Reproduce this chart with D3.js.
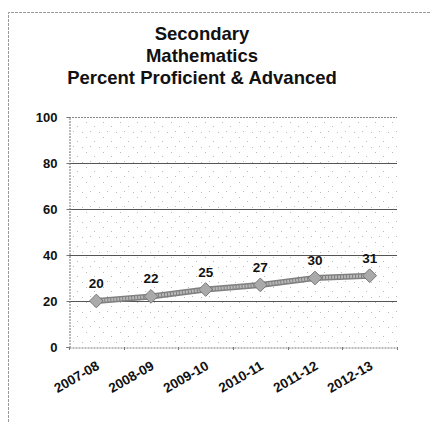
<!DOCTYPE html>
<html><head><meta charset="utf-8">
<script src="https://cdn.jsdelivr.net/npm/d3@7"></script>
<style>body{margin:0;background:#fff}svg{display:block}</style>
</head><body>
<svg id="c" width="430" height="422"></svg>
<script>
const categories = ["2007-08","2008-09","2009-10","2010-11","2011-12","2012-13"];
const values = [20,22,25,27,30,31];
const yTicks = [0,20,40,60,80,100];
const titleLines = ["Secondary","Mathematics","Percent Proficient & Advanced"];

const svg = d3.select("#c");
const W = 430, H = 422;
const m = {left:69, right:397, top:117, bottom:347};
const font = "Arial, 'Liberation Sans', sans-serif";

// outer frame
svg.append("path").attr("d",`M8.5,${H} L8.5,12.5 L${W},12.5`)
  .attr("fill","none").attr("stroke","#999").attr("stroke-width",1).attr("stroke-dasharray","3,1");

const defs = svg.append("defs");
const pat = defs.append("pattern").attr("id","stip").attr("patternUnits","userSpaceOnUse")
  .attr("width",17).attr("height",15);
[[1,2],[9,6],[14,12],[5,11]].forEach(([x,y])=>{
  pat.append("rect").attr("x",x).attr("y",y).attr("width",1).attr("height",1).attr("fill","#bbb");
});

const x = d3.scaleBand().domain(categories).range([m.left,m.right]);
const y = d3.scaleLinear().domain([0,100]).range([m.bottom,m.top]);

svg.append("rect").attr("x",m.left).attr("y",m.top).attr("width",m.right-m.left)
  .attr("height",m.bottom-m.top).attr("fill","url(#stip)");

// gridlines
svg.append("g").selectAll("line").data(yTicks.filter(t=>t>0 && t<100)).join("line")
  .attr("x1",m.left).attr("x2",m.right)
  .attr("y1",d=>Math.round(y(d))+0.5).attr("y2",d=>Math.round(y(d))+0.5)
  .attr("stroke","#555").attr("stroke-width",1);
// top border
svg.append("line").attr("x1",m.left).attr("x2",m.right).attr("y1",m.top+0.5).attr("y2",m.top+0.5)
  .attr("stroke","#888").attr("stroke-dasharray","2,1");

// y axis
const yAxis = svg.append("g").attr("transform",`translate(${m.left+0.5},0)`)
  .call(d3.axisLeft(y).tickValues(yTicks).tickSize(3).tickPadding(9));
yAxis.select(".domain").attr("stroke","#777").attr("stroke-dasharray","2,1");
yAxis.selectAll(".tick line").attr("stroke","#777");
yAxis.selectAll("text").attr("font-family",font).attr("font-weight","bold")
  .attr("font-size",13).attr("fill","#111");

// x axis
const xAxis = svg.append("g").attr("transform",`translate(0,${m.bottom+0.5})`)
  .call(d3.axisBottom(x).tickSize(0).tickPadding(0));
xAxis.select(".domain").attr("stroke","#777").attr("stroke-dasharray","2,1");
xAxis.selectAll(".tick text").attr("font-family",font).attr("font-weight","bold")
  .attr("font-size",13.5).attr("fill","#111").attr("text-anchor","end")
  .attr("dy",0).attr("transform","translate(4,21) rotate(-30)");
// tick marks at band boundaries
svg.append("g").selectAll("line").data(categories.concat(["end"])).join("line")
  .attr("x1",(d,i)=>Math.round(m.left + i*x.bandwidth())+0.5)
  .attr("x2",(d,i)=>Math.round(m.left + i*x.bandwidth())+0.5)
  .attr("y1",m.bottom).attr("y2",m.bottom+3).attr("stroke","#777");

// line
const cx = d => x(d) + x.bandwidth()/2;
const data = categories.map((c,i)=>({c, v: values[i]}));
const line = d3.line().x(d=>cx(d.c)).y(d=>y(d.v));
svg.append("path").datum(data).attr("d",line).attr("fill","none")
  .attr("stroke","#808080").attr("stroke-width",6);
svg.append("path").datum(data).attr("d",line).attr("fill","none")
  .attr("stroke","#b8b8b8").attr("stroke-width",3).attr("stroke-dasharray","2,1");
svg.append("g").selectAll("path").data(data).join("path")
  .attr("d",d3.symbol(d3.symbolDiamond2, 120)())
  .attr("transform",d=>`translate(${cx(d.c)},${y(d.v)})`)
  .attr("fill","#aaa").attr("stroke","#777").attr("stroke-width",1);

// data labels
svg.append("g").selectAll("text").data(data).join("text")
  .attr("x",d=>cx(d.c)).attr("y",d=>y(d.v)-13)
  .attr("text-anchor","middle").attr("font-family",font).attr("font-weight","bold")
  .attr("font-size",13.5).attr("fill","#111").text(d=>d.v);

// title
svg.append("g").selectAll("text").data(titleLines).join("text")
  .attr("x",202).attr("y",(d,i)=>40+i*22).attr("text-anchor","middle")
  .attr("font-family",font).attr("font-weight","bold").attr("font-size",18.5)
  .attr("fill","#111").text(d=>d);
</script>
</body></html>
